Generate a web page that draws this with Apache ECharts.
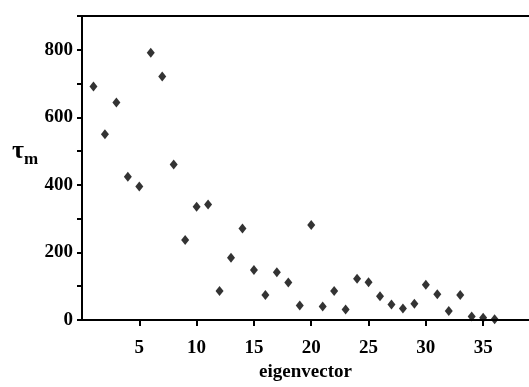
<!DOCTYPE html>
<html>
<head>
<meta charset="utf-8">
<script src="https://cdn.jsdelivr.net/npm/echarts@6/dist/echarts.min.js"></script>
<style>
  html, body { margin: 0; padding: 0; background: #fff; }
  #chart { width: 529px; height: 387px; }
</style>
</head>
<body>
<div id="chart"></div>
<script>
// eigenvector index and tau_m values
const eigenvectors = [1, 2, 3, 4, 5, 6, 7, 8, 9, 10, 11, 12, 13, 14, 15, 16, 17, 18,
  19, 20, 21, 22, 23, 24, 25, 26, 27, 28, 29, 30, 31, 32, 33, 34, 35, 36];
const tauValues = [691, 550, 644, 424, 395, 791, 721, 460, 237, 335, 342, 86, 184, 271, 148, 74, 141, 111,
  43, 281, 40, 86, 31, 122, 112, 70, 46, 34, 48, 104, 76, 27, 74, 10, 7, 2];

const yMajorLabels = [0, 200, 400, 600, 800];

const font = "'Liberation Serif', 'Times New Roman', serif";

const chart = echarts.init(document.getElementById("chart"));

chart.setOption({
  animation: false,
  backgroundColor: "#fff",
  grid: {
    left: 82,
    right: 0,
    top: 16,
    bottom: 61,
    containLabel: false,
  },
  xAxis: [
    {
      type: "value",
      min: 0,
      max: 39,
      interval: 5,
      name: "eigenvector",
      nameLocation: "middle",
      nameGap: 43,
      nameTextStyle: {
        fontFamily: font,
        fontWeight: "bold",
        fontSize: 19,
        color: "#000",
      },
      axisLine: { lineStyle: { color: "#000", width: 2 } },
      axisTick: { show: true, length: 6, lineStyle: { color: "#000", width: 2 } },
      axisLabel: {
        margin: 19,
        fontFamily: font,
        fontWeight: "bold",
        fontSize: 19,
        color: "#000",
        showMinLabel: false,
        showMaxLabel: false,
        formatter: (v) => (v === 0 ? "" : String(v)),
      },
      splitLine: { show: false },
    },
    {
      type: "value",
      position: "top",
      min: 0,
      max: 39,
      axisLine: { show: true, lineStyle: { color: "#000", width: 2 } },
      axisTick: { show: false },
      axisLabel: { show: false },
      splitLine: { show: false },
    },
  ],
  yAxis: {
    type: "value",
    min: 0,
    max: 900,
    interval: 100,
    axisLine: { show: true, lineStyle: { color: "#000", width: 2 } },
    axisTick: { show: true, length: 5, lineStyle: { color: "#000", width: 2 } },
    axisLabel: {
      margin: 9,
      fontFamily: font,
      fontWeight: "bold",
      fontSize: 19,
      color: "#000",
      formatter: (v) => (yMajorLabels.includes(v) ? String(v) : ""),
    },
    splitLine: { show: false },
  },
  graphic: [
    {
      type: "text",
      left: 12,
      top: 138,
      style: {
        text: "{t|τ}{m|m}",
        rich: {
          t: { fontFamily: font, fontSize: 26, fontWeight: "bold", fill: "#000", verticalAlign: "bottom" },
          m: { fontFamily: font, fontSize: 17, fontWeight: "bold", fill: "#000", verticalAlign: "bottom", padding: [0, 0, -4, 0] },
        },
      },
    },
  ],
  series: [
    {
      type: "scatter",
      xAxisIndex: 0,
      data: eigenvectors.map((x, i) => [x, tauValues[i]]),
      symbol: "diamond",
      symbolSize: [8, 10],
      itemStyle: { color: "#000" },
    },
  ],
});
</script>
</body>
</html>
